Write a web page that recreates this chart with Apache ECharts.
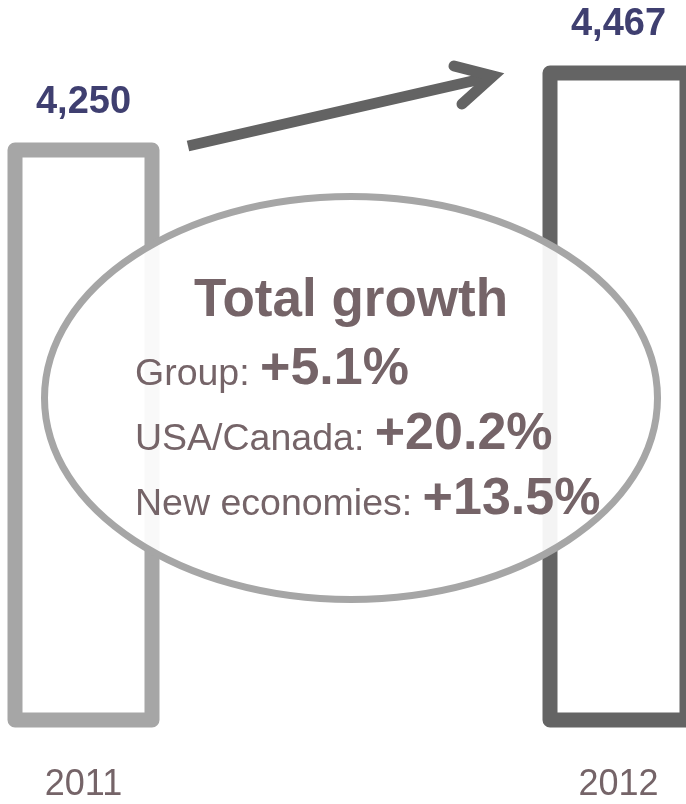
<!DOCTYPE html>
<html>
<head>
<meta charset="utf-8">
<script src="https://cdn.jsdelivr.net/npm/echarts@6/dist/echarts.min.js"></script>
<style>
  html, body { margin: 0; padding: 0; background: #ffffff; }
  #chart { width: 686px; height: 804px; }
</style>
</head>
<body>
<div id="chart"></div>
<script>
// Revenue by year
const years = ['2011', '2012'];
const revenue = [4250, 4467];

// Growth summary shown in the oval
const summaryTitle = 'Total growth';
const growthRegions = ['Group:', 'USA/Canada:', 'New economies:'];
const growthRates = [5.1, 20.2, 13.5];

const FONT = '"Liberation Sans", Arial, sans-serif';
const TEXT_COLOR = '#756468';
const VALUE_COLOR = '#3f3f70';
const barColors = ['#a6a6a6', '#646464'];
const Y_MIN = 2645;
const Y_MAX = 4650;
const BAR_WIDTH = 137;
const BAR_BORDER = 15;

const chart = echarts.init(document.getElementById('chart'), null, { renderer: 'canvas' });

// Measure text so the bold rate can follow its region name on the same baseline
const measureCtx = document.createElement('canvas').getContext('2d');
function textWidth(str, font) {
  measureCtx.font = font;
  return measureCtx.measureText(str).width;
}
// zrender draws text centred on y; shift so that y is the alphabetic baseline
function midFromBaseline(baseline, size) {
  return baseline - 0.35 * size;
}

const ellipse = { cx: 351, cy: 398, rx: 306.5, ry: 201.5 };
const graphics = [
  {
    type: 'ellipse',
    z: 100,
    shape: ellipse,
    style: { fill: 'rgba(255,255,255,0.93)', stroke: '#a6a6a6', lineWidth: 7 }
  },
  {
    type: 'text',
    z: 101,
    style: {
      x: ellipse.cx,
      y: midFromBaseline(320, 53),
      text: summaryTitle,
      font: 'bold 53px ' + FONT,
      fill: TEXT_COLOR,
      textAlign: 'center', align: 'center',
      textVerticalAlign: 'middle', verticalAlign: 'middle'
    }
  }
];

const lineStartX = 135;
const baselines = [388, 453, 518];
growthRegions.forEach(function (name, i) {
  const labelFont = 'normal 37.5px ' + FONT;
  const rateFont = 'bold 52px ' + FONT;
  const labelText = name + ' ';
  const w = textWidth(labelText, labelFont);
  graphics.push({
    type: 'text', z: 101,
    style: {
      x: lineStartX, y: midFromBaseline(baselines[i], 37.5),
      text: labelText, font: labelFont, fill: TEXT_COLOR,
      textAlign: 'left', align: 'left',
      textVerticalAlign: 'middle', verticalAlign: 'middle'
    }
  });
  graphics.push({
    type: 'text', z: 101,
    style: {
      x: lineStartX + w, y: midFromBaseline(baselines[i], 52),
      text: '+' + growthRates[i].toFixed(1) + '%', font: rateFont, fill: TEXT_COLOR,
      textAlign: 'left', align: 'left',
      textVerticalAlign: 'middle', verticalAlign: 'middle'
    }
  });
});

// Rising arrow between the two years
graphics.push({
  type: 'polyline', z: 50,
  shape: { points: [[188, 146], [490, 77]] },
  style: { stroke: '#636363', lineWidth: 11, lineCap: 'butt', fill: null }
});
graphics.push({
  type: 'polyline', z: 50,
  shape: { points: [[454, 66], [493, 76], [462, 104]] },
  style: { stroke: '#636363', lineWidth: 11, lineCap: 'round', lineJoin: 'miter', fill: null }
});

// Hollow bar drawn from the axis floor up to the value, with its value above
function renderHollowBar(params, api) {
  const idx = api.value(0);
  const val = api.value(1);
  const top = api.coord([idx, val]);
  const base = api.coord([idx, Y_MIN]);
  const halfW = BAR_WIDTH / 2;
  return {
    type: 'group',
    children: [
      {
        type: 'rect',
        shape: { x: top[0] - halfW, y: top[1], width: BAR_WIDTH, height: base[1] - top[1] },
        style: {
          fill: '#ffffff',
          stroke: barColors[params.dataIndex],
          lineWidth: BAR_BORDER,
          lineJoin: 'round'
        }
      },
      {
        type: 'text',
        style: {
          x: top[0],
          y: top[1] - 29,
          text: echarts.format.addCommas(val),
          font: 'bold 38px ' + FONT,
          fill: VALUE_COLOR,
          textAlign: 'center', align: 'center',
          textVerticalAlign: 'bottom', verticalAlign: 'bottom'
        }
      }
    ]
  };
}

const option = {
  animation: false,
  backgroundColor: '#ffffff',
  grid: { left: 83.5, right: 67.5, top: 8, bottom: 84, containLabel: false },
  xAxis: {
    type: 'category',
    data: years,
    boundaryGap: false,
    axisLine: { show: false },
    axisTick: { show: false },
    splitLine: { show: false },
    z: 10,
    axisLabel: {
      color: TEXT_COLOR,
      fontSize: 36,
      fontFamily: FONT,
      margin: 47,
      interval: 0
    }
  },
  yAxis: {
    type: 'value',
    min: Y_MIN,
    max: Y_MAX,
    show: false,
    splitLine: { show: false }
  },
  series: [{
    type: 'custom',
    clip: false,
    renderItem: renderHollowBar,
    encode: { x: 0, y: 1 },
    data: revenue.map(function (v, i) { return [i, v]; })
  }],
  graphic: graphics
};

chart.setOption(option);
</script>
</body>
</html>
